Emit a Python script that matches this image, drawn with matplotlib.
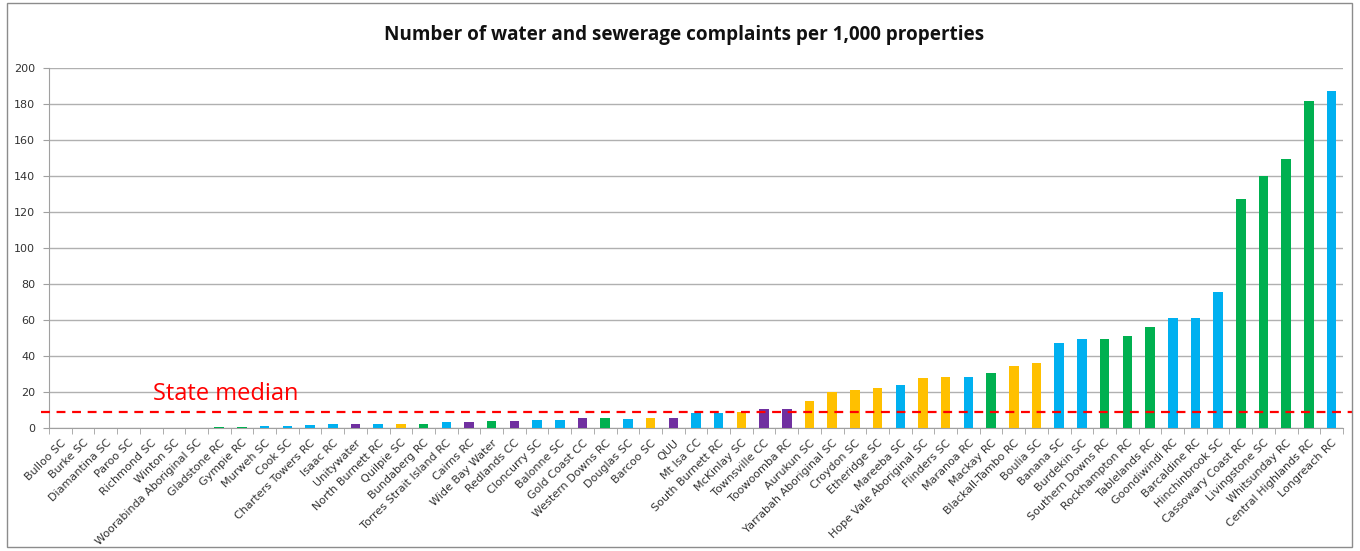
import matplotlib
matplotlib.use("Agg")
import matplotlib.pyplot as plt
from matplotlib.patches import Rectangle
from matplotlib.lines import Line2D
import matplotlib.transforms as mtransforms

categories = [
    "Bulloo SC", "Burke SC", "Diamantina SC", "Paroo SC", "Richmond SC", "Winton SC",
    "Woorabinda Aboriginal SC", "Gladstone RC", "Gympie RC", "Murweh SC", "Cook SC",
    "Charters Towers RC", "Isaac RC", "Unitywater", "North Burnett RC", "Quilpie SC",
    "Bundaberg RC", "Torres Strait Island RC", "Cairns RC", "Wide Bay Water", "Redlands CC",
    "Cloncurry SC", "Balonne SC", "Gold Coast CC", "Western Downs RC", "Douglas SC",
    "Barcoo SC", "QUU", "Mt Isa CC", "South Burnett RC", "McKinlay SC", "Townsville CC",
    "Toowoomba RC", "Aurukun SC", "Yarrabah Aboriginal SC", "Croydon SC", "Etheridge SC",
    "Mareeba SC", "Hope Vale Aboriginal SC", "Flinders SC", "Maranoa RC", "Mackay RC",
    "Blackall-Tambo RC", "Boulia SC", "Banana SC", "Burdekin SC", "Southern Downs RC",
    "Rockhampton RC", "Tablelands RC", "Goondiwindi RC", "Barcaldine RC", "Hinchinbrook SC",
    "Cassowary Coast RC", "Livingstone SC", "Whitsunday RC", "Central Highlands RC",
    "Longreach RC",
]

values = [
    0, 0, 0, 0, 0, 0,
    0, 0.5, 0.7, 1.1, 1.1,
    1.6, 2.4, 2.4, 2.4, 2.4,
    2.4, 3.2, 3.5, 3.9, 3.9,
    4.6, 4.6, 5.3, 5.3, 5.2,
    5.5, 5.5, 8.3, 8.3, 8.9, 10.4,
    10.4, 15.0, 20.0, 21.0, 22.2,
    24.0, 28.0, 28.2, 28.4, 30.6,
    34.3, 36.2, 47.5, 49.2, 49.2,
    51.2, 56.0, 60.9, 60.9, 75.7,
    127.0, 140.0, 149.4, 181.6,
    187.0,
]

groups = [
    "B", "B", "B", "B", "B", "B",
    "G", "G", "G", "B", "B",
    "B", "B", "P", "B", "Y",
    "G", "B", "P", "G", "P",
    "B", "B", "P", "G", "B",
    "Y", "P", "B", "B", "Y", "P",
    "P", "Y", "Y", "Y", "Y",
    "B", "Y", "Y", "B", "G",
    "Y", "Y", "B", "B", "G",
    "G", "G", "B", "B", "B",
    "G", "G", "G", "G",
    "B",
]

group_colors = {"B": "#00B0F0", "G": "#00B050", "Y": "#FFC000", "P": "#7030A0"}

state_median = 8.9
title = "Number of water and sewerage complaints per 1,000 properties"

W, H = 1360, 551
fig = plt.figure(figsize=(W / 100, H / 100), dpi=100)

# outer chart frame
fig.patches.append(Rectangle((7 / W, 4 / H), (1352 - 7) / W, (548 - 4) / H,
                             transform=fig.transFigure, fill=False,
                             edgecolor="#8c8c8c", linewidth=1.0))

ax = fig.add_axes([49 / W, (H - 428) / H, (1343 - 49) / W, (428 - 68) / H])

x = list(range(len(categories)))
ax.bar(x, values, width=0.42, color=[group_colors[g] for g in groups], zorder=3)

ax.set_xlim(-0.5, len(categories) - 0.5)
ax.set_ylim(0, 200)
ax.set_yticks(range(0, 201, 20))
ax.tick_params(axis="y", labelsize=8, length=4, color="#a0a0a0", labelcolor="#333333", pad=6)
ax.yaxis.grid(True, color="#b0b0b0", linewidth=1.0, zorder=0)
ax.set_axisbelow(True)

ax.set_xticks(x)
ax.set_xticklabels(categories, rotation=45, ha="right", rotation_mode="anchor",
                   fontsize=8, color="#333333")
ax.tick_params(axis="x", which="major", length=0, pad=7)
ax.set_xticks([i + 0.5 for i in range(-1, len(categories))], minor=True)
ax.tick_params(axis="x", which="minor", length=4, color="#a0a0a0")

for s in ["top", "right"]:
    ax.spines[s].set_visible(False)
ax.spines["left"].set_color("#a0a0a0")
ax.spines["bottom"].set_color("#a0a0a0")

# state median dashed line extending slightly beyond axes
trans = mtransforms.blended_transform_factory(ax.transAxes, ax.transData)
ax.add_line(Line2D([-0.006, 1.008], [state_median, state_median], transform=trans,
                   color="red", linestyle=(0, (4, 3)), linewidth=1.6,
                   clip_on=False, zorder=5))
ax.text(153 / W, (H - 394) / H, "State median", transform=fig.transFigure,
        color="red", fontsize=17, va="center", ha="left", family="Open Sans")

fig.text(0.5 * (383 + 985) / W, (H - 35) / H, title, ha="center", va="center",
         fontsize=13.6, fontweight="bold", family="Open Sans", color="#111111")

fig.savefig("out.png", dpi=100, facecolor="white")
